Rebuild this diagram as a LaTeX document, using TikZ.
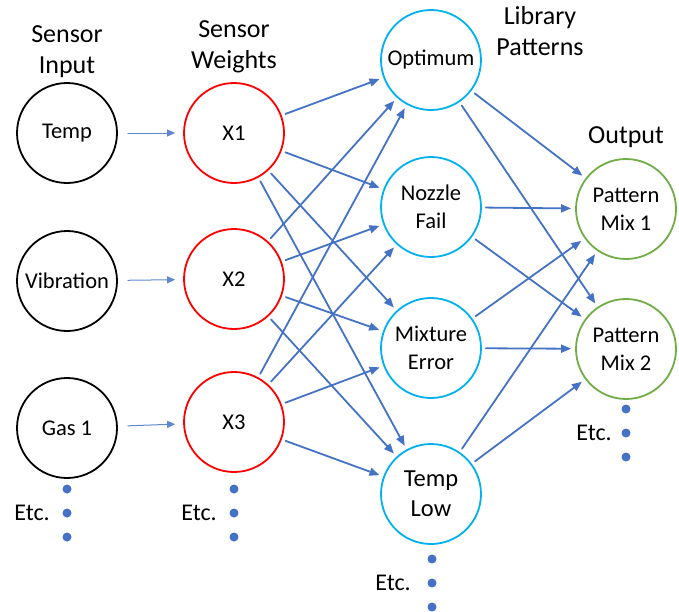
\documentclass[tikz,border=0pt]{standalone}
\usepackage{fontspec}
\setmainfont{Carlito}
\usetikzlibrary{arrows.meta}
\definecolor{linkblue}{RGB}{68,114,196}
\definecolor{libblue}{RGB}{0,176,240}
\definecolor{outgreen}{RGB}{112,173,71}
\tikzset{
	unit/.style={circle, draw, line width=1.8pt, minimum size=100pt, inner sep=0pt, align=center, font=\fontsize{22.5}{28}\selectfont},
	inputnode/.style={unit, draw=black},
	weightnode/.style={unit, draw=red},
	libnode/.style={unit, draw=libblue},
	outnode/.style={unit, draw=outgreen},
	heading/.style={align=center, font=\fontsize{26}{31}\selectfont},
	etc/.style={font=\fontsize{24}{28}\selectfont},
	link/.style={draw=linkblue, line width=1.8pt, -{Triangle[length=10pt,width=8pt]}, shorten <=4pt, shorten >=4pt},
	feed/.style={draw=linkblue!85, line width=1pt, -{Triangle[length=8pt,width=7pt]}, shorten <=10pt, shorten >=8pt},
}
\begin{document}
\begin{tikzpicture}[x=1pt, y=-1pt, line join=round, line cap=round]
	\useasboundingbox (0,0) rectangle (679,611);
	% sensor inputs
	\node[inputnode] (temp) at (67,133) {Temp};
	\node[inputnode] (vib) at (67,281) {Vibration};
	\node[inputnode] (gas) at (67,428) {Gas 1};
	% weights
	\node[weightnode] (x1) at (234,133) {X1};
	\node[weightnode] (x2) at (234,279) {X2};
	\node[weightnode] (x3) at (234,422) {X3};
	% library patterns
	\node[libnode] (opt) at (431,60) {Optimum};
	\node[libnode] (noz) at (431,207) {Nozzle\\Fail};
	\node[libnode] (mix) at (431,348) {Mixture\\Error};
	\node[libnode, font=\fontsize{24.5}{30}\selectfont] (low) at (431,494) {Temp\\Low};
	% output
	\node[outnode] (pm1) at (626,209) {Pattern\\Mix 1};
	\node[outnode] (pm2) at (626,349) {Pattern\\Mix 2};
	% headings
	\node[heading] (hin) at (67,52) {Sensor\\Input};
	\node[heading] (hw) at (234,47) {Sensor\\Weights};
	\node[heading] (hlib) at (540,31) {Library\\Patterns};
	\node[heading] (hout) at (626,137) {Output};
	% connectors
	\draw[feed] (temp) -- (x1);
	\draw[feed] (vib) -- (x2);
	\draw[feed] (gas) -- (x3);
	\foreach \a in {x1,x2,x3}
	\foreach \b in {opt,noz,mix,low}
	\draw[link] (\a) -- (\b);
	\foreach \a in {opt,noz,mix,low}
	\foreach \b in {pm1,pm2}
	\draw[link] (\a) -- (\b);
	% etc. dots
	\foreach \x/\y in {67/489, 234/489, 432/559, 626/409}
	\foreach \k in {0,1,2}
	\fill[linkblue] (\x,\y+24*\k) circle (4.5pt);
	\node[etc] (etcin) at (32,513) {Etc.};
	\node[etc] (etcw) at (199,513) {Etc.};
	\node[etc] (etclib) at (393,583) {Etc.};
	\node[etc] (etcout) at (594,433) {Etc.};
\end{tikzpicture}
\end{document}
